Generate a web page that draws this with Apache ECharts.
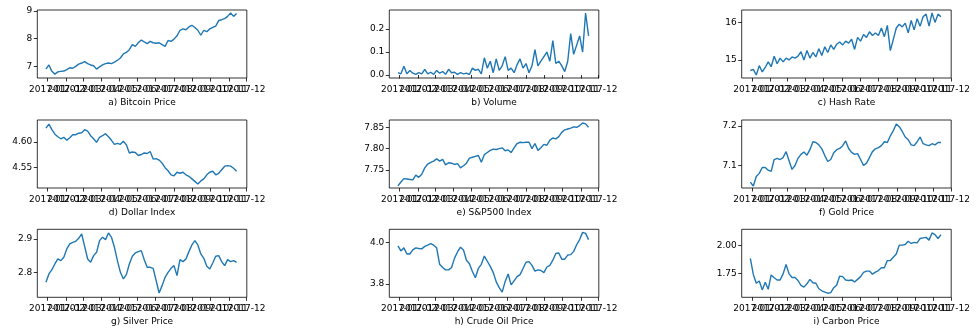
<!DOCTYPE html>
<html>
<head>
<meta charset="utf-8">
<script src="https://cdn.jsdelivr.net/npm/echarts@6/dist/echarts.min.js"></script>
<style>html,body{margin:0;padding:0;background:#fff}#c{width:978px;height:329px}</style>
</head>
<body>
<div id="c"></div>
<script>
// ---- data ----
const startDate = Date.UTC(2016, 11, 29);
const stepDays = 5;
const nPoints = 65;
const monthTickLabels = ['2017-01','2017-02','2017-03','2017-04','2017-05','2017-06','2017-07','2017-08','2017-09','2017-10','2017-11','2017-12'];
const titles = ['a) Bitcoin Price','b) Volume','c) Hash Rate','d) Dollar Index','e) S&P500 Index','f) Gold Price','g) Silver Price','h) Crude Oil Price','i) Carbon Price'];

const bitcoin = [6.90,7.05,6.82,6.72,6.80,6.82,6.83,6.88,6.95,6.93,7.00,7.08,7.12,7.17,7.10,7.05,7.02,6.90,6.98,7.05,7.10,7.12,7.10,7.15,7.22,7.30,7.45,7.50,7.60,7.78,7.72,7.85,7.95,7.88,7.82,7.90,7.85,7.83,7.85,7.78,7.72,7.93,7.90,7.98,8.10,8.30,8.35,8.32,8.42,8.48,8.40,8.30,8.12,8.30,8.25,8.35,8.40,8.45,8.65,8.68,8.72,8.80,8.92,8.80,8.90];
const volume = [0.010,0.005,0.038,0.005,0.020,0.008,0.003,0.010,0.005,0.025,0.005,0.012,0.003,0.020,0.008,0.015,0.003,0.025,0.010,0.012,0.003,0.010,0.005,0.008,0.002,0.030,0.020,0.025,0.005,0.075,0.030,0.060,0.010,0.070,0.020,0.040,0.080,0.020,0.030,0.010,0.045,0.070,0.030,0.050,0.010,0.040,0.110,0.040,0.060,0.080,0.100,0.060,0.150,0.050,0.060,0.040,0.015,0.060,0.180,0.090,0.130,0.170,0.100,0.270,0.170];
const hashRate = [14.72,14.75,14.60,14.85,14.68,14.80,14.95,14.82,15.10,14.90,15.05,14.95,15.05,15.00,15.08,15.05,15.10,15.22,15.00,15.25,15.05,15.20,15.08,15.30,15.12,15.35,15.20,15.40,15.28,15.42,15.48,15.40,15.50,15.45,15.55,15.28,15.60,15.50,15.68,15.60,15.75,15.65,15.72,15.65,15.85,15.62,15.92,15.25,15.55,15.85,15.95,15.88,15.98,15.72,16.05,15.80,16.10,15.90,16.15,16.22,15.90,16.25,16.00,16.22,16.15];
const dollarIndex = [4.627,4.635,4.624,4.615,4.610,4.606,4.609,4.603,4.608,4.614,4.614,4.617,4.618,4.624,4.621,4.612,4.606,4.599,4.609,4.612,4.616,4.610,4.603,4.595,4.597,4.595,4.601,4.594,4.578,4.580,4.579,4.573,4.575,4.578,4.577,4.581,4.566,4.567,4.564,4.558,4.549,4.543,4.535,4.533,4.540,4.538,4.540,4.535,4.532,4.527,4.522,4.517,4.523,4.527,4.535,4.540,4.542,4.535,4.538,4.545,4.552,4.553,4.552,4.548,4.542];
const sp500 = [7.713,7.722,7.730,7.729,7.728,7.727,7.738,7.733,7.740,7.755,7.764,7.768,7.771,7.776,7.771,7.775,7.762,7.767,7.766,7.763,7.765,7.755,7.760,7.766,7.778,7.780,7.782,7.784,7.768,7.786,7.791,7.796,7.799,7.798,7.800,7.802,7.795,7.797,7.791,7.802,7.812,7.815,7.814,7.815,7.815,7.800,7.812,7.796,7.802,7.810,7.808,7.820,7.825,7.823,7.828,7.838,7.844,7.846,7.848,7.851,7.850,7.854,7.860,7.858,7.850];
const gold = [7.058,7.048,7.072,7.080,7.095,7.095,7.088,7.085,7.115,7.118,7.115,7.120,7.135,7.112,7.090,7.100,7.118,7.128,7.134,7.126,7.140,7.160,7.158,7.152,7.142,7.125,7.110,7.115,7.132,7.140,7.143,7.150,7.162,7.143,7.133,7.128,7.130,7.115,7.100,7.106,7.120,7.135,7.142,7.145,7.150,7.160,7.158,7.175,7.188,7.205,7.198,7.186,7.172,7.165,7.152,7.150,7.160,7.172,7.155,7.152,7.150,7.155,7.152,7.158,7.158];
const silver = [2.770,2.795,2.808,2.825,2.840,2.835,2.845,2.870,2.885,2.890,2.893,2.902,2.915,2.878,2.840,2.830,2.850,2.860,2.895,2.905,2.898,2.918,2.905,2.875,2.835,2.800,2.780,2.793,2.825,2.848,2.858,2.862,2.865,2.838,2.815,2.815,2.812,2.775,2.738,2.760,2.785,2.800,2.812,2.820,2.790,2.838,2.832,2.840,2.862,2.882,2.895,2.882,2.855,2.842,2.818,2.810,2.828,2.848,2.850,2.832,2.820,2.838,2.832,2.835,2.830];
const crudeOil = [3.985,3.960,3.975,3.945,3.945,3.965,3.975,3.972,3.970,3.982,3.988,3.995,3.988,3.975,3.895,3.880,3.868,3.868,3.880,3.925,3.955,3.978,3.965,3.915,3.898,3.860,3.830,3.875,3.895,3.935,3.910,3.885,3.855,3.810,3.782,3.760,3.812,3.848,3.795,3.815,3.835,3.845,3.875,3.905,3.908,3.890,3.862,3.868,3.865,3.855,3.882,3.890,3.915,3.948,3.950,3.920,3.920,3.940,3.942,3.958,3.990,4.015,4.050,4.045,4.015];
const carbon = [1.885,1.740,1.660,1.680,1.600,1.670,1.605,1.735,1.710,1.690,1.690,1.745,1.830,1.745,1.712,1.712,1.685,1.640,1.625,1.655,1.695,1.665,1.660,1.610,1.592,1.580,1.570,1.575,1.620,1.645,1.725,1.720,1.690,1.685,1.690,1.672,1.695,1.720,1.758,1.770,1.770,1.742,1.760,1.775,1.800,1.800,1.865,1.865,1.895,1.925,2.005,2.005,2.010,2.040,2.020,2.030,2.025,2.065,2.070,2.075,2.050,2.115,2.100,2.065,2.100];

const yTicks = [[7,8,9],[0,0.1,0.2],[15,16],[4.55,4.60],[7.75,7.80,7.85],[7.1,7.2],[2.8,2.9],[3.8,4.0],[1.75,2.00]];
const yDecimals = [0,1,0,2,2,1,1,1,2];
const yRanges = [[6.58,9.03],[-0.013,0.283],[14.52,16.33],[4.509,4.643],[7.708,7.867],[7.043,7.215],[2.725,2.929],[3.735,4.065],[1.533,2.148]];
const seriesValues = [bitcoin, volume, hashRate, dollarIndex, sp500, gold, silver, crudeOil, carbon];

// ---- build ----
const DAY = 86400000;
const dates = [];
for (let k = 0; k < nPoints; k++) dates.push(startDate + k * stepDays * DAY);
const monthTicks = monthTickLabels.map(s => Date.UTC(+s.slice(0,4), +s.slice(5,7) - 1, 1));
const xMin = Date.UTC(2016, 11, 14, 12);
const xMax = Date.UTC(2017, 11, 1, 4);
const fmtMonth = v => { const d = new Date(v); return d.getUTCFullYear() + '-' + String(d.getUTCMonth() + 1).padStart(2, '0'); };

const colLeft = [37.3, 389.3, 741.7];
const rowTop = [10, 120, 229.3];
const W = 209.5, H = 68;
const font = 'DejaVu Sans';
const grids = [], xAxes = [], yAxes = [], series = [];
for (let p = 0; p < 9; p++) {
  const r = Math.floor(p / 3), c = p % 3;
  grids.push({left: colLeft[c], top: rowTop[r], width: W, height: H, show: true, borderColor: '#000', borderWidth: 0.8, backgroundColor: 'transparent', containLabel: false});
  // three label layers per panel (every third month each) so that overlapping labels are all drawn
  for (let layer = 0; layer < 3; layer++) {
    const labelVals = monthTicks.filter((v, k) => k % 3 === layer);
    xAxes.push({
      type: 'value', gridIndex: p, min: xMin, max: xMax, position: 'bottom', offset: 0,
      name: layer === 0 ? titles[p] : '', nameLocation: 'middle', nameGap: 20,
      nameTextStyle: {fontFamily: font, fontSize: 9, color: '#000'},
      axisLine: {show: false},
      axisTick: {show: layer === 0, length: 3.5, lineStyle: {color: '#000', width: 0.8}, customValues: monthTicks},
      axisLabel: {show: true, fontFamily: font, fontSize: 9, color: '#000', margin: 7, hideOverlap: false,
        showMinLabel: true, showMaxLabel: true, customValues: labelVals, formatter: fmtMonth},
      splitLine: {show: false}
    });
  }
  const dec = yDecimals[p];
  yAxes.push({
    type: 'value', gridIndex: p, min: yRanges[p][0], max: yRanges[p][1],
    axisLine: {show: false},
    axisTick: {show: true, length: 3.5, lineStyle: {color: '#000', width: 0.8}, customValues: yTicks[p]},
    axisLabel: {show: true, fontFamily: font, fontSize: 9, color: '#000', margin: 5, customValues: yTicks[p],
      showMinLabel: true, showMaxLabel: true,
      formatter: v => Number(v).toFixed(dec)},
    splitLine: {show: false}
  });
  series.push({
    type: 'line', xAxisIndex: 3 * p, yAxisIndex: p, showSymbol: false, symbol: 'none',
    lineStyle: {color: '#1f77b4', width: 1.4}, animation: false,
    data: dates.map((d, k) => [d, seriesValues[p][k]])
  });
}
const chart = echarts.init(document.getElementById('c'), null, {renderer: 'canvas'});
chart.setOption({animation: false, grid: grids, xAxis: xAxes, yAxis: yAxes, series: series});
</script>
</body>
</html>
